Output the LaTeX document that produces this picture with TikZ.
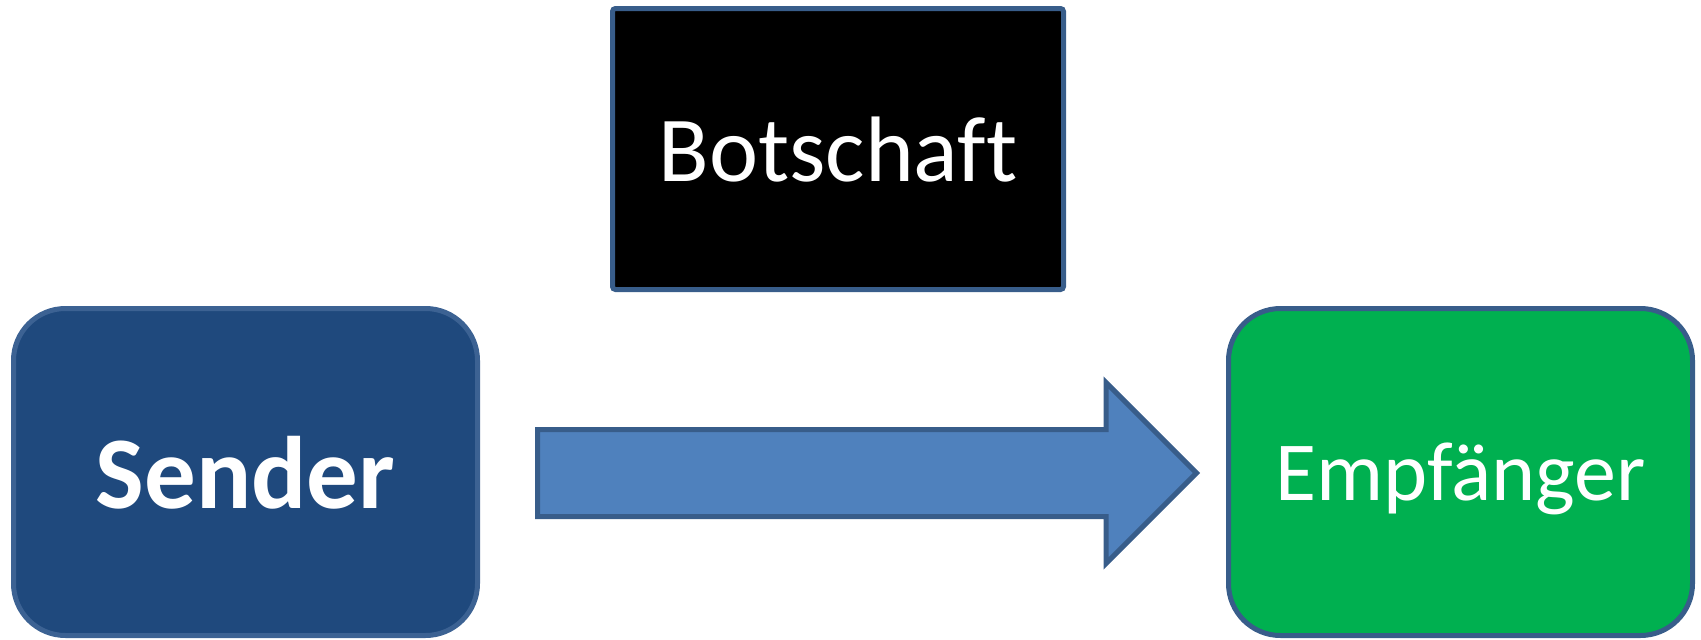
\documentclass[tikz,border=0pt]{standalone}
\usepackage{fontspec}
\setmainfont{Carlito}[Ligatures = NoCommon]
\usepackage{tikz}

\definecolor{senderblau}{HTML}{1F497D}
\definecolor{senderrand}{HTML}{3C6293}
\definecolor{pfeilblau}{HTML}{4F81BD}
\definecolor{randblau}{HTML}{385D8A}
\definecolor{empfgruen}{HTML}{00B050}

\tikzset{
kasten/.style = {shape = rectangle, rounded corners = 52pt, line width = 5pt, inner sep = 0pt, minimum width = 464pt, minimum height = 327pt, text = white, text depth = 0pt},
pfeil/.style = {fill = pfeilblau, draw = randblau, line width = 5pt}
}

\begin{document}
\begin{tikzpicture}[x = 1pt, y = -1pt]
\useasboundingbox (0,0) rectangle (1701,640);
\node[kasten, fill = black, draw = randblau, rounded corners = 3pt, minimum width = 451pt, minimum height = 281pt, font = \fontsize{93}{100}\selectfont] (botschaft) at (838,149) {Botschaft};
\node[kasten, fill = senderblau, draw = senderrand, font = \fontsize{103}{110}\selectfont\bfseries] (sender) at (245.5,472) {Sender};
\node[kasten, fill = empfgruen, draw = randblau, font = \fontsize{84}{90}\selectfont] (empfaenger) at (1460.5,472) {Empfänger};
\draw[pfeil] (537.5,429.5) -- (1106,429.5) -- (1106,382.5) -- (1196.5,473) -- (1106,563.5) -- (1106,516.5) -- (537.5,516.5) -- cycle;
\end{tikzpicture}
\end{document}
